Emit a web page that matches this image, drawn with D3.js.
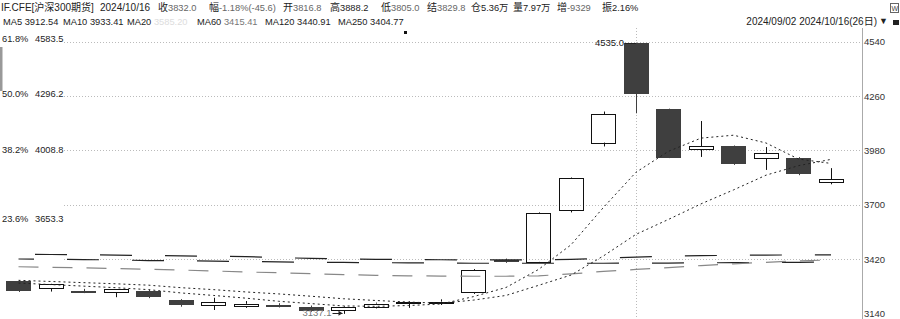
<!DOCTYPE html>
<html>
<head>
<meta charset="utf-8">
<script src="https://cdn.jsdelivr.net/npm/d3@7"></script>
<style>
body { margin: 0; background: #fff; }
svg { display: block; font-family: "Liberation Sans", Arial, "Noto Sans CJK SC", sans-serif; }
</style>
</head>
<body>
<div id="chart"></div>
<script>
// daily bars, IF.CFE 2024/09/02 - 2024/10/16
var dates = ["2024/09/02","2024/09/03","2024/09/04","2024/09/05","2024/09/06",
    "2024/09/09","2024/09/10","2024/09/11","2024/09/12","2024/09/13",
    "2024/09/18","2024/09/19","2024/09/20","2024/09/23","2024/09/24",
    "2024/09/25","2024/09/26","2024/09/27","2024/09/30","2024/10/08",
    "2024/10/09","2024/10/10","2024/10/11","2024/10/14","2024/10/15","2024/10/16"];
var opens  = [3307, 3270, 3255, 3248, 3256, 3208, 3182, 3176, 3182, 3174, 3157, 3174, 3192, 3192, 3248, 3416, 3405, 3672, 4020, 4535, 4193, 3985, 4002, 3940, 3942, 3816.8];
var highs  = [3310, 3292, 3266, 3265, 3262, 3213, 3220, 3203, 3192, 3180, 3176, 3195, 3202, 3212, 3368, 3422, 3660, 3840, 4180, 4535, 4195, 4131, 4005, 3997, 3945, 3888.2];
var lows   = [3250, 3252, 3244, 3223, 3218, 3174, 3157, 3168, 3170, 3148, 3137.1, 3165, 3168, 3183, 3240, 3400, 3400, 3660, 4000, 4171, 3940, 3946, 3905, 3879, 3852, 3805.0];
var closes = [3256, 3290, 3246, 3263, 3222, 3182, 3196, 3189, 3178, 3153, 3171, 3190, 3197, 3200, 3363, 3405, 3655, 3837, 4166, 4269, 3942, 4000, 3911, 3966, 3856, 3832.0];

// moving averages
var ma5   = [3296, 3288, 3280, 3272, 3262, 3245, 3232, 3218, 3202, 3190, 3178, 3176, 3180, 3188, 3226, 3273, 3366, 3493, 3686, 3867, 3975, 4043, 4058, 4018, 3935, 3912.5];
var ma10  = [3310, 3304, 3298, 3292, 3285, 3272, 3262, 3250, 3240, 3228, 3215, 3206, 3198, 3192, 3208, 3232, 3284, 3337, 3436, 3547, 3624, 3704, 3776, 3852, 3901, 3933.4];
var ma60  = [3380, 3377, 3374, 3371, 3367, 3363, 3358, 3353, 3349, 3344, 3339, 3336, 3333, 3332, 3331, 3331, 3333, 3343, 3356, 3366, 3375, 3386, 3395, 3403, 3410, 3415.4];
var ma120 = [3444, 3443, 3442, 3440, 3438, 3436, 3434, 3432, 3427, 3423, 3420, 3418, 3417, 3416, 3415, 3415, 3415, 3418, 3423, 3430, 3434, 3437, 3439, 3440, 3441, 3441];
var ma250 = [3420, 3419, 3417, 3415, 3412, 3411, 3409, 3407, 3405, 3403, 3402, 3401, 3400, 3399, 3398, 3398, 3398, 3398, 3398, 3399, 3399, 3400, 3401, 3402, 3403, 3404.8];

var yTicks = [3140, 3420, 3700, 3980, 4260, 4540];
var fibNames = ["61.8%", "50.0%", "38.2%", "23.6%"];
var fibValues = [4583.5, 4296.2, 4008.8, 3653.3];

var maNames = ["MA5", "MA10", "MA20", "MA60", "MA120", "MA250"];
var maLast = ["3912.54", "3933.41", "3585.20", "3415.41", "3440.91", "3404.77"];

var width = 900, height = 319;
var axisX = 862;

var svg = d3.select('#chart').append('svg')
    .attr('width', width)
    .attr('height', height);

var x = d3.scalePoint().domain(dates).range([18.5, 831]);
var y = d3.scaleLinear().domain([3140, 4540]).range([313.3, 41.7]);
var bodyW = 25;

// grid
svg.append('g').selectAll('line')
    .data(yTicks.slice(1))
    .enter().append('line')
    .attr('x1', 64).attr('x2', axisX)
    .attr('y1', function(d) { return Math.round(y(d)) + 0.5; })
    .attr('y2', function(d) { return Math.round(y(d)) + 0.5; })
    .attr('stroke', '#bbb')
    .attr('stroke-dasharray', '1,2');

// month separator
svg.append('line')
    .attr('x1', Math.round(x("2024/10/08")) + 0.5).attr('x2', Math.round(x("2024/10/08")) + 0.5)
    .attr('y1', 28).attr('y2', height)
    .attr('stroke', '#bbb')
    .attr('stroke-dasharray', '1,2');

// fibonacci labels
var fib = svg.append('g').attr('font-size', 9.3).attr('fill', '#222');
fibValues.forEach(function(v, i) {
    fib.append('text').attr('x', 2).attr('y', y(v) + 8.3).text(fibNames[i]);
    fib.append('text').attr('x', 35).attr('y', y(v) + 8.3).text(v.toFixed(1));
});

// candles
var idx = d3.range(dates.length);
var candle = svg.append('g').selectAll('g')
    .data(idx)
    .enter().append('g');

candle.each(function(i) {
    var g = d3.select(this);
    var cx = Math.round(x(dates[i])) + 0.5;
    var up = closes[i] >= opens[i];
    var top = y(Math.max(opens[i], closes[i]));
    var bot = y(Math.min(opens[i], closes[i]));
    if (up) {
        g.append('line').attr('x1', cx).attr('x2', cx)
            .attr('y1', y(highs[i])).attr('y2', top).attr('stroke', '#111');
        g.append('line').attr('x1', cx).attr('x2', cx)
            .attr('y1', bot).attr('y2', y(lows[i])).attr('stroke', '#111');
        g.append('rect')
            .attr('x', Math.round(x(dates[i]) - bodyW / 2) + 0.5)
            .attr('y', Math.round(top) + 0.5)
            .attr('width', bodyW - 1)
            .attr('height', Math.max(1, Math.round(bot) - Math.round(top)))
            .attr('fill', 'none')
            .attr('stroke', '#111');
    } else {
        g.append('line').attr('x1', cx).attr('x2', cx)
            .attr('y1', y(highs[i])).attr('y2', y(lows[i])).attr('stroke', '#3f3f3f');
        g.append('rect')
            .attr('x', Math.round(x(dates[i]) - bodyW / 2))
            .attr('y', Math.round(top))
            .attr('width', bodyW)
            .attr('height', Math.max(2, Math.round(bot) - Math.round(top)))
            .attr('fill', '#3f3f3f');
    }
});

// moving average lines
var maLine = d3.line()
    .x(function(d, i) { return x(dates[i]); })
    .y(function(d) { return y(d); });

var maStyles = [
    { data: ma250, stroke: '#222', dash: '32,33', offset: 16.5, w: 1.2 },
    { data: ma120, stroke: '#222', dash: '32,33', offset: 48.5, w: 1.2 },
    { data: ma60, stroke: '#888', dash: '20,14', offset: 0, w: 1.2 },
    { data: ma10, stroke: '#222', dash: '2,3', offset: 0, w: 1 },
    { data: ma5, stroke: '#222', dash: '2,3', offset: 0, w: 1 }
];
maStyles.forEach(function(s) {
    svg.append('path')
        .datum(s.data)
        .attr('d', maLine)
        .attr('fill', 'none')
        .attr('stroke', s.stroke)
        .attr('stroke-width', s.w)
        .attr('stroke-dasharray', s.dash)
        .attr('stroke-dashoffset', s.offset);
});

// high / low markers
var hiIdx = d3.maxIndex(highs), loIdx = d3.minIndex(lows);
svg.append('text')
    .attr('x', x(dates[hiIdx]) - 12).attr('y', y(highs[hiIdx]) + 3.5)
    .attr('text-anchor', 'end').attr('font-size', 9.5).attr('fill', '#222')
    .text(highs[hiIdx].toFixed(1));
svg.append('line')
    .attr('x1', x(dates[hiIdx]) - 11).attr('x2', x(dates[hiIdx]))
    .attr('y1', Math.round(y(highs[hiIdx])) + 0.5).attr('y2', Math.round(y(highs[hiIdx])) + 0.5)
    .attr('stroke', '#222');

svg.append('text')
    .attr('x', x(dates[loIdx]) - 12).attr('y', y(lows[loIdx]) + 2.5)
    .attr('text-anchor', 'end').attr('font-size', 9.5).attr('fill', '#777')
    .text(lows[loIdx].toFixed(1));
svg.append('line')
    .attr('x1', x(dates[loIdx]) - 11).attr('x2', x(dates[loIdx]) - 1)
    .attr('y1', Math.round(y(lows[loIdx])) - 0.5).attr('y2', Math.round(y(lows[loIdx])) - 0.5)
    .attr('stroke', '#222');
svg.append('path')
    .attr('d', 'M' + (x(dates[loIdx]) - 1) + ',' + (y(lows[loIdx]) - 0.5) + 'l-4,-2.5v5z')
    .attr('fill', '#222');

// right axis
svg.append('line')
    .attr('x1', axisX + 0.5).attr('x2', axisX + 0.5)
    .attr('y1', 28).attr('y2', height)
    .attr('stroke', '#aaa');

var yAxis = d3.axisRight(y)
    .tickValues(yTicks)
    .tickFormat(d3.format('d'))
    .tickSize(0)
    .tickPadding(2);
var ax = svg.append('g')
    .attr('transform', 'translate(' + axisX + ',0)')
    .call(yAxis);
ax.select('.domain').remove();
ax.selectAll('text')
    .attr('font-size', 9.5)
    .attr('font-family', '"Liberation Sans", Arial, sans-serif')
    .attr('fill', '#333');

// header line 1
var head1 = [
    { x: 1, label: "IF.CFE[沪深300期货]", value: "", c: '#222' },
    { x: 100, label: "2024/10/16", value: "", c: '#222' },
    { x: 158, label: "收", value: "3832.0", c: '#666' },
    { x: 209, label: "幅", value: "-1.18%(-45.6)", c: '#666' },
    { x: 283, label: "开", value: "3816.8", c: '#666' },
    { x: 330, label: "高", value: "3888.2", c: '#222' },
    { x: 381, label: "低", value: "3805.0", c: '#666' },
    { x: 427, label: "结", value: "3829.8", c: '#666' },
    { x: 471, label: "仓", value: "5.36万", c: '#222' },
    { x: 513, label: "量", value: "7.97万", c: '#222' },
    { x: 557, label: "增", value: "-9329", c: '#666' },
    { x: 602, label: "振", value: "2.16%", c: '#222' }
];
var h1 = svg.append('g').attr('font-size', 10);
head1.forEach(function(d) {
    var t = h1.append('text').attr('x', d.x).attr('y', 10.5);
    t.append('tspan').attr('fill', '#222').text(d.label);
    if (d.value) t.append('tspan').attr('font-size', 9.3).attr('fill', d.c).text(d.value);
});

// header line 2: MA values
var maX = [3, 63, 127, 197, 265, 338];
var maValColor = ['#222', '#222', '#ddd', '#777', '#222', '#222'];
var h2 = svg.append('g').attr('font-size', 9.3);
maNames.forEach(function(n, i) {
    var t = h2.append('text').attr('x', maX[i]).attr('y', 25);
    t.append('tspan').attr('fill', '#222').text(n + ' ');
    t.append('tspan').attr('fill', maValColor[i]).text(maLast[i]);
});

h2.append('text')
    .attr('x', 877).attr('y', 25)
    .attr('text-anchor', 'end').attr('fill', '#222').attr('font-size', 10)
    .text(dates[0] + ' ' + dates[dates.length - 1] + '(' + dates.length + '日)');
h2.append('text')
    .attr('x', 879).attr('y', 24).attr('font-size', 9).attr('fill', '#222')
    .text('▼');

// small icons top right
svg.append('rect').attr('x', 890.5).attr('y', 3.5).attr('width', 8).attr('height', 9)
    .attr('fill', 'none').attr('stroke', '#666');
svg.append('text').attr('x', 891.5).attr('y', 11).attr('font-size', 7).attr('fill', '#444').text('W');
svg.append('rect').attr('x', 893).attr('y', 20).attr('width', 6).attr('height', 5).attr('fill', '#222');

// misc marks
svg.append('rect').attr('x', 0).attr('y', 47).attr('width', 2.5).attr('height', 44).attr('fill', '#999');
svg.append('rect').attr('x', 404).attr('y', 31).attr('width', 3).attr('height', 3).attr('fill', '#111');
</script>
</body>
</html>
